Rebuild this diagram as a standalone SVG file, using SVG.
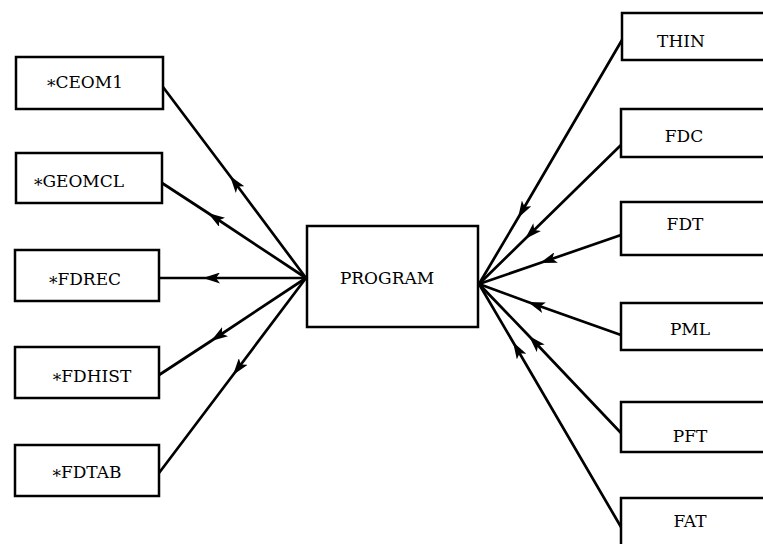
<svg xmlns="http://www.w3.org/2000/svg" width="763" height="544" viewBox="0 0 763 544">
<style>
.box{fill:#fff;stroke:#000;stroke-width:2.5}
.lbl{font-family:"DejaVu Serif","Liberation Serif",serif;font-size:17px;fill:#000;text-anchor:middle}
.con{fill:none;stroke:#000;stroke-width:2.7;marker-mid:url(#ah)}
</style>
<defs>
<marker id="ah" viewBox="0 0 17 11" refX="17" refY="5.5" markerWidth="17" markerHeight="11" markerUnits="userSpaceOnUse" orient="auto">
<path d="M17,5.5 L0,0 L4,5.5 L0,11 Z" fill="#000"/>
</marker>
</defs>
<rect width="763" height="544" fill="#fff"/>
<g id="connectors">
<path class="con" d="M306,278 L230,176 L163,87"/>
<path class="con" d="M306,278 L208,213 L162,183"/>
<path class="con" d="M306,278 L203,278 L159,278"/>
<path class="con" d="M306,278 L211,341 L159,375"/>
<path class="con" d="M306,278 L233,375 L159,473"/>
<path class="con" d="M622,40 L518,218 L479,284"/>
<path class="con" d="M621,145 L525,239 L479,284"/>
<path class="con" d="M621,235 L540,263 L479,284"/>
<path class="con" d="M621,335 L528,302 L479,284"/>
<path class="con" d="M621,433 L529,336 L479,284"/>
<path class="con" d="M621,527 L513,342 L479,284"/>
</g>
<g id="ceom1"><rect class="box" x="16" y="57" width="147" height="52"/><text class="lbl" x="85" y="88"><tspan dy="4">*</tspan><tspan dy="-4">CEOM1</tspan></text></g>
<g id="geomcl"><rect class="box" x="16" y="153" width="146" height="50"/><text class="lbl" x="79" y="187"><tspan dy="4">*</tspan><tspan dy="-4">GEOMCL</tspan></text></g>
<g id="fdrec"><rect class="box" x="15" y="250" width="144" height="51"/><text class="lbl" x="85" y="285"><tspan dy="4">*</tspan><tspan dy="-4">FDREC</tspan></text></g>
<g id="fdhist"><rect class="box" x="15" y="347" width="144" height="51"/><text class="lbl" x="92" y="382"><tspan dy="4">*</tspan><tspan dy="-4">FDHIST</tspan></text></g>
<g id="fdtab"><rect class="box" x="15" y="445" width="144" height="51"/><text class="lbl" x="87" y="478"><tspan dy="4">*</tspan><tspan dy="-4">FDTAB</tspan></text></g>
<g id="program"><rect class="box" x="307" y="226" width="171" height="101"/><text class="lbl" x="387" y="284">PROGRAM</text></g>
<g id="thin"><rect class="box" x="622" y="13" width="150" height="47"/><text class="lbl" x="681" y="47">THIN</text></g>
<g id="fdc"><rect class="box" x="621" y="109" width="151" height="48"/><text class="lbl" x="684" y="142">FDC</text></g>
<g id="fdt"><rect class="box" x="621" y="202" width="151" height="53"/><text class="lbl" x="685" y="230">FDT</text></g>
<g id="pml"><rect class="box" x="621" y="303" width="151" height="47"/><text class="lbl" x="690" y="335">PML</text></g>
<g id="pft"><rect class="box" x="621" y="402" width="151" height="50"/><text class="lbl" x="690" y="442">PFT</text></g>
<g id="fat"><rect class="box" x="621" y="498" width="151" height="60"/><text class="lbl" x="690" y="527">FAT</text></g>
</svg>
